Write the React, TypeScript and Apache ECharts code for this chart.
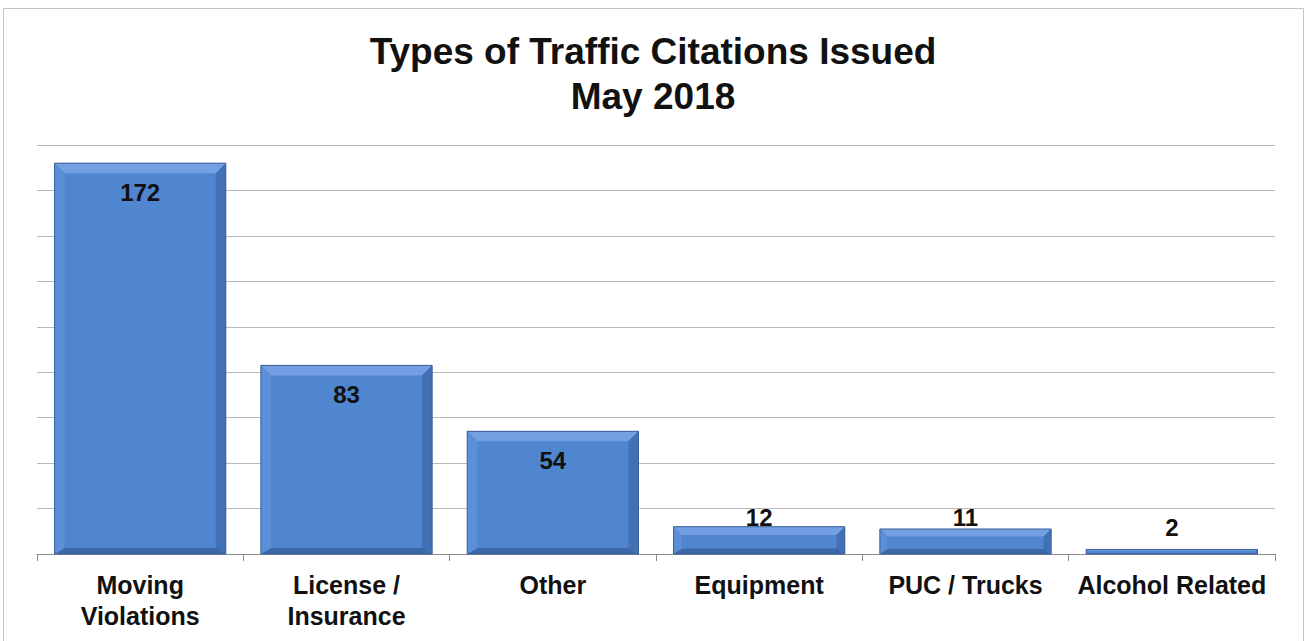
import React, { useEffect, useRef } from "react";
import * as echarts from "echarts";

const categories = [
  "Moving\nViolations",
  "License /\nInsurance",
  "Other",
  "Equipment",
  "PUC / Trucks",
  "Alcohol Related",
];
const values = [172, 83, 54, 12, 11, 2];
const titleLines = ["Types of Traffic Citations Issued", "May 2018"];

const FONT = "'Liberation Sans', Arial, sans-serif";

export default function App() {
  const ref = useRef<HTMLDivElement>(null);
  useEffect(() => {
    document.body.style.margin = "0";
    const chart = echarts.init(ref.current!, null, { renderer: "svg" });
    const renderItem = (params: any, api: any) => {
      const idx = api.value(0);
      const v = api.value(1);
      const top = api.coord([idx, v]);
      const base = api.coord([idx, 0]);
      const bw = api.size([1, 0])[0] * 0.83;
      const x0 = top[0] - bw / 2;
      const x1 = top[0] + bw / 2;
      const y0 = top[1];
      const y1 = base[1];
      const h = y1 - y0;
      const b = Math.min(10, h * 0.3);
      const bb = Math.min(6, h * 0.2);
      const labelY = h > 60 ? y0 + 29 : h >= 20 ? y1 - 37 : y1 - 27;
      return {
        type: "group",
        children: [
          { type: "rect", shape: { x: x0, y: y0, width: bw, height: h }, style: { fill: "#5085d0" } },
          { type: "polygon", shape: { points: [[x0, y0], [x1, y0], [x1 - b, y0 + b], [x0 + b, y0 + b]] }, style: { fill: "#72a0e2" } },
          { type: "polygon", shape: { points: [[x1, y0], [x1, y1], [x1 - b, y1 - bb], [x1 - b, y0 + b]] }, style: { fill: "#4170b4" } },
          { type: "polygon", shape: { points: [[x0, y1], [x1, y1], [x1 - b, y1 - bb], [x0 + b, y1 - bb]] }, style: { fill: "#3c68a8" } },
          { type: "polygon", shape: { points: [[x0, y0], [x0 + b, y0 + b], [x0 + b, y1 - bb], [x0, y1]] }, style: { fill: "#5b8fd8" } },
          { type: "rect", shape: { x: x0, y: y0, width: bw, height: h }, style: { fill: "none", stroke: "#3a5f98", lineWidth: 1 } },
          {
            type: "text",
            x: top[0],
            y: labelY,
            style: {
              text: String(values[params.dataIndex]),
              fill: "#111",
              font: `bold 24px ${FONT}`,
              align: "center",
              verticalAlign: "middle",
            },
          },
        ],
      };
    };
    chart.setOption({
      animation: false,
      backgroundColor: "#fff",
      title: titleLines.map((t, i) => ({
        text: t,
        left: "center",
        top: 25 + i * 45,
        textStyle: { fontFamily: FONT, fontWeight: "bold", fontSize: 37, color: "#111", lineHeight: 42 },
      })),
      graphic: [
        { type: "rect", shape: { x: 3.5, y: 8.5, width: 1300, height: 640 }, style: { fill: "none", stroke: "#c4c4c4", lineWidth: 1 }, silent: true, z: -1 },
      ],
      grid: { left: 37, right: 31, top: 145, bottom: 87 },
      xAxis: {
        type: "category",
        data: categories,
        axisLine: { show: true, lineStyle: { color: "#8c8c8c", width: 1 } },
        axisTick: { show: true, alignWithLabel: false, length: 7, lineStyle: { color: "#8c8c8c" } },
        axisLabel: {
          interval: 0,
          margin: 15,
          fontFamily: FONT,
          fontWeight: "bold",
          fontSize: 25,
          lineHeight: 31,
          color: "#111",
        },
      },
      yAxis: {
        type: "value",
        min: 0,
        max: 180,
        interval: 20,
        axisLine: { show: false },
        axisTick: { show: false },
        axisLabel: { show: false },
        splitLine: { show: true, lineStyle: { color: "#b8b8b8", width: 1 } },
      },
      series: [
        {
          type: "custom",
          renderItem,
          data: values.map((v, i) => [i, v]),
          encode: { x: 0, y: 1 },
          z: 3,
        },
      ],
    });
    return () => chart.dispose();
  }, []);
  return <div ref={ref} style={{ width: 1306, height: 641 }} />;
}
